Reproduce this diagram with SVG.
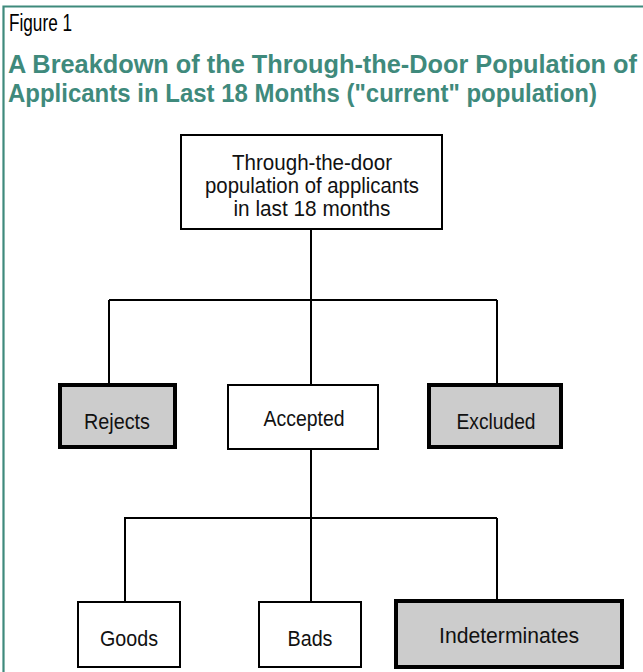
<svg xmlns="http://www.w3.org/2000/svg" width="643" height="672" viewBox="0 0 643 672">
<style>
.lbl{font-family:"Liberation Sans",Arial,sans-serif;font-size:22px;fill:#111;text-anchor:middle}
.ttl{font-family:"Liberation Sans",Arial,sans-serif;font-size:25px;font-weight:bold;fill:#3f8a7c}
.box{fill:#fff;stroke:#000;stroke-width:2}
.gray{fill:#cccccc;stroke:#000;stroke-width:4}
.conn{stroke:#000;stroke-width:2;fill:none}
</style>
<rect x="0" y="0" width="643" height="672" fill="#fff"/>
<path d="M3.5 672 V6.5 H643" fill="none" stroke="#3f8a7c" stroke-width="2.2"/>
<text x="9" y="31" font-family="'Liberation Sans',Arial,sans-serif" font-size="23" fill="#000" textLength="63" lengthAdjust="spacingAndGlyphs">Figure 1</text>
<text class="ttl" x="8" y="73" textLength="629" lengthAdjust="spacingAndGlyphs">A Breakdown of the Through-the-Door Population of</text>
<text class="ttl" x="8" y="102" textLength="589" lengthAdjust="spacingAndGlyphs">Applicants in Last 18 Months ("current" population)</text>
<g id="connectors">
<path class="conn" d="M311 230 V384"/>
<path class="conn" d="M109 300 H497"/>
<path class="conn" d="M109 300 V383"/>
<path class="conn" d="M497 300 V383"/>
<path class="conn" d="M311 449 V601"/>
<path class="conn" d="M124 518 H497"/>
<path class="conn" d="M125 518 V601"/>
<path class="conn" d="M497 518 V600"/>
</g>
<g id="root">
<rect class="box" x="181" y="135" width="261" height="94"/>
<text class="lbl" x="312" y="170" textLength="160" lengthAdjust="spacingAndGlyphs">Through-the-door</text>
<text class="lbl" x="312" y="193" textLength="214" lengthAdjust="spacingAndGlyphs">population of applicants</text>
<text class="lbl" x="312" y="216" textLength="157" lengthAdjust="spacingAndGlyphs">in last 18 months</text>
</g>
<g id="rejects">
<rect class="gray" x="60" y="385" width="115" height="62"/>
<text class="lbl" x="117" y="429" textLength="66" lengthAdjust="spacingAndGlyphs">Rejects</text>
</g>
<g id="accepted">
<rect class="box" x="228" y="385" width="150" height="64"/>
<text class="lbl" x="304" y="426" textLength="81" lengthAdjust="spacingAndGlyphs">Accepted</text>
</g>
<g id="excluded">
<rect class="gray" x="429" y="385" width="132" height="62"/>
<text class="lbl" x="496" y="429" textLength="79" lengthAdjust="spacingAndGlyphs">Excluded</text>
</g>
<g id="goods">
<rect class="box" x="78" y="602" width="102" height="65" stroke-width="2.5"/>
<text class="lbl" x="129" y="646" textLength="58" lengthAdjust="spacingAndGlyphs">Goods</text>
</g>
<g id="bads">
<rect class="box" x="259" y="602" width="102" height="65" stroke-width="3"/>
<text class="lbl" x="310" y="646" textLength="45" lengthAdjust="spacingAndGlyphs">Bads</text>
</g>
<g id="indeterminates">
<rect class="gray" x="396" y="601" width="226" height="66" stroke-width="3"/>
<text class="lbl" x="509" y="643" textLength="140" lengthAdjust="spacingAndGlyphs">Indeterminates</text>
</g>
</svg>
